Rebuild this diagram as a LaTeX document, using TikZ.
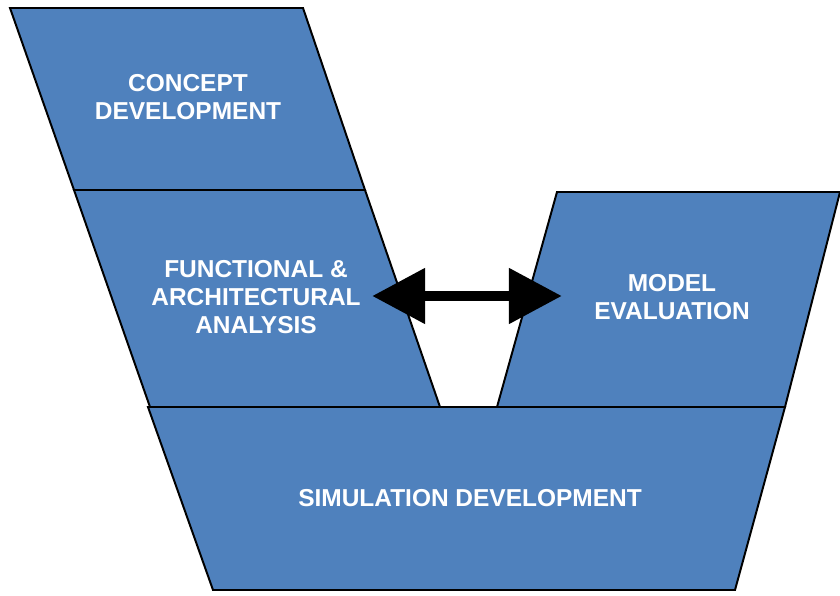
\documentclass[tikz,border=0pt]{standalone}
\usepackage{fontspec}
\setmainfont{Liberation Sans}
\usetikzlibrary{calc,arrows.meta}
\definecolor{blockblue}{RGB}{79,129,189}
\tikzset{
	block/.style={fill=blockblue,draw=black,line width=1.4pt,line join=miter},
	label/.style={text=white,font=\fontsize{17.4}{20.2}\selectfont\bfseries,align=center},
	twoway/.style={line width=7.8pt,{Triangle[length=1.33cm,width=1.33cm]}-{Triangle[length=1.33cm,width=1.33cm]},shorten <=0pt,shorten >=0pt}
}
\begin{document}
\begin{tikzpicture}[x=0.025cm,y=-0.025cm]
					%\draw[help lines] (0,0) grid (840,596);
					\useasboundingbox (0,0) rectangle (840,596);
					%LEFT ARM
					\draw[block] (10,8) -- (303,8) -- (365,190) -- (74,190) -- cycle;
					\draw[block] (74,190) -- (365,190) -- (440,407) -- (150,407) -- cycle;
					%RIGHT ARM
					\draw[block] (557,192) -- (840,192) -- (785,407) -- (497,407) -- cycle;
					%BASE
					\draw[block] (148,407) -- (785,407) -- (735,590) -- (213,590) -- cycle;
					
					\node[label] (concept) at (188,97) {CONCEPT\\DEVELOPMENT};
					\node[label] (functional) at (256,297) {FUNCTIONAL \&\\ARCHITECTURAL\\ANALYSIS};
					\node[label] (model) at (672,297) {MODEL\\EVALUATION};
					\node[label] (simulation) at (470,498) {SIMULATION DEVELOPMENT};
					
					%ARROW
					\coordinate (leftend) at (372,296);
					\coordinate (rightend) at (562,296);
					\draw[twoway] (leftend) -- (rightend);
				  \end{tikzpicture}
\end{document}
